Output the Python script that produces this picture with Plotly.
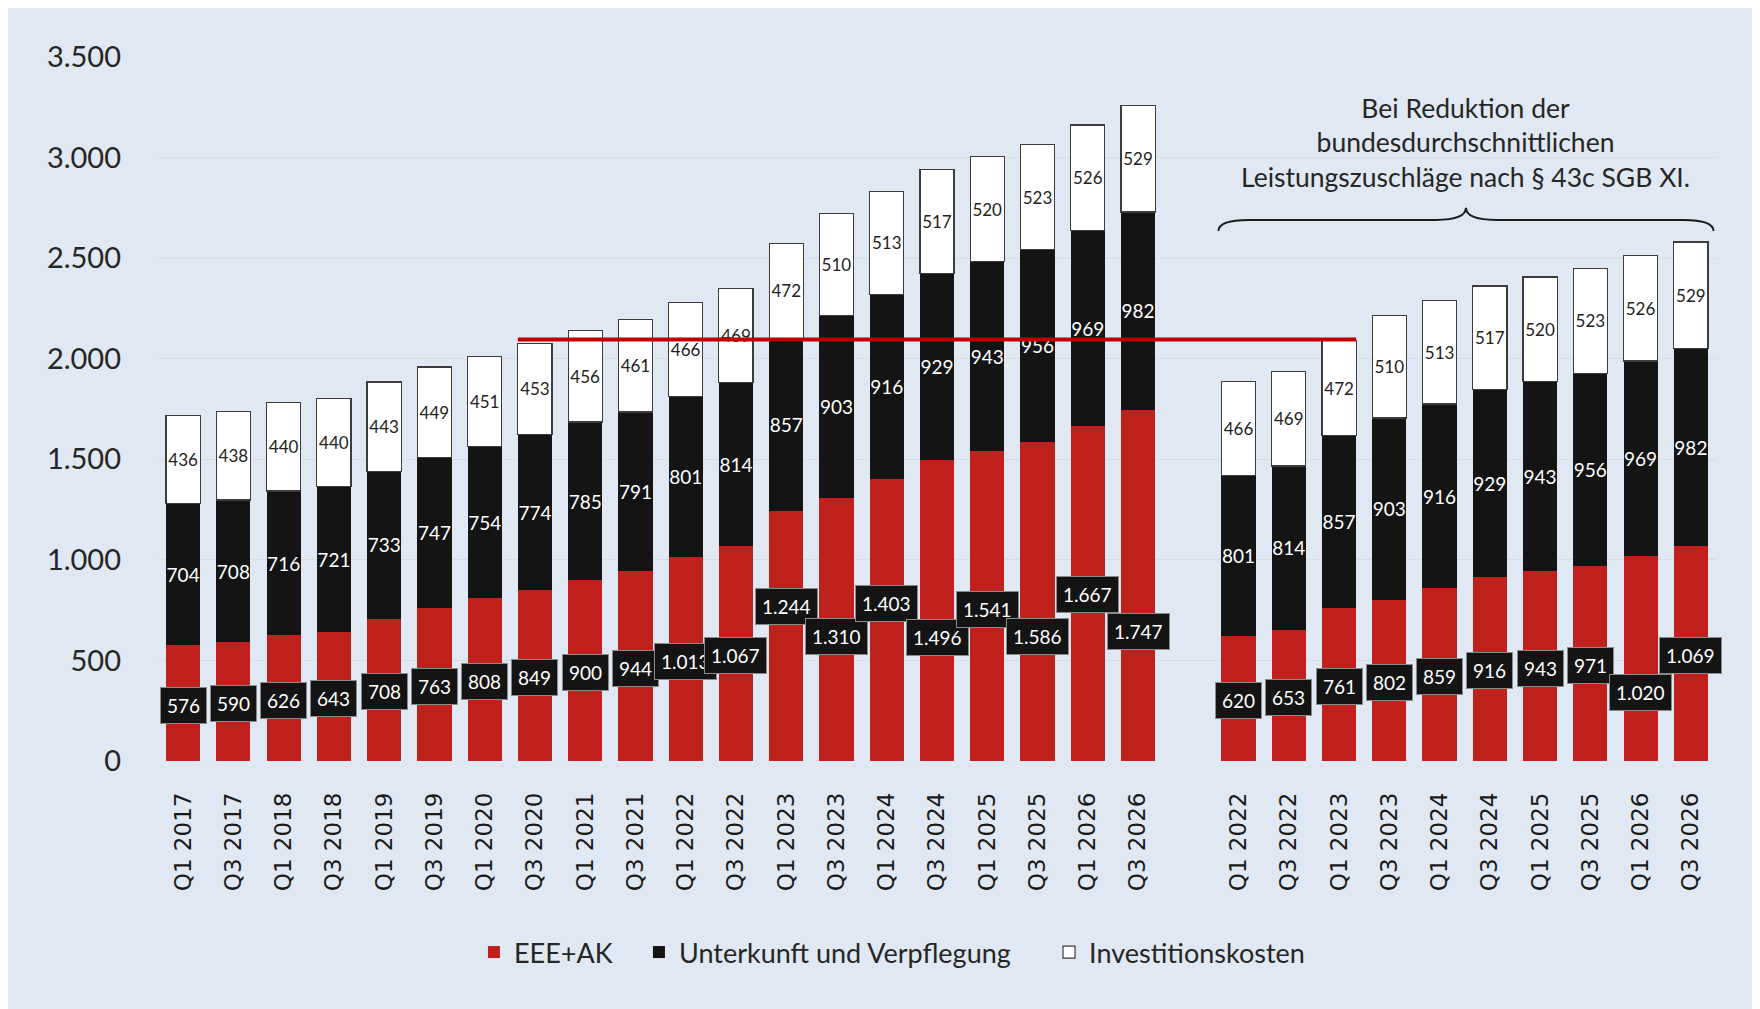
import plotly.graph_objects as go

# ---------------- data ----------------
g1_labels = ["Q1 2017", "Q3 2017", "Q1 2018", "Q3 2018", "Q1 2019", "Q3 2019", "Q1 2020", "Q3 2020",
             "Q1 2021", "Q3 2021", "Q1 2022", "Q3 2022", "Q1 2023", "Q3 2023", "Q1 2024", "Q3 2024",
             "Q1 2025", "Q3 2025", "Q1 2026", "Q3 2026"]
g1_eee = [576, 590, 626, 643, 708, 763, 808, 849, 900, 944, 1013, 1067, 1244, 1310, 1403, 1496,
          1541, 1586, 1667, 1747]
g1_uv = [704, 708, 716, 721, 733, 747, 754, 774, 785, 791, 801, 814, 857, 903, 916, 929,
         943, 956, 969, 982]
g1_inv = [436, 438, 440, 440, 443, 449, 451, 453, 456, 461, 466, 469, 472, 510, 513, 517,
          520, 523, 526, 529]

g2_labels = ["Q1 2022", "Q3 2022", "Q1 2023", "Q3 2023", "Q1 2024", "Q3 2024", "Q1 2025", "Q3 2025",
             "Q1 2026", "Q3 2026"]
g2_eee = [620, 653, 761, 802, 859, 916, 943, 971, 1020, 1069]
g2_uv = [801, 814, 857, 903, 916, 929, 943, 956, 969, 982]
g2_inv = [466, 469, 472, 510, 513, 517, 520, 523, 526, 529]

ref_level = 2095
y_ticks = [0, 500, 1000, 1500, 2000, 2500, 3000, 3500]
note_text = "Bei Reduktion der<br>bundesdurchschnittlichen<br>Leistungszuschläge nach § 43c SGB XI."

# ---------------- styling ----------------
RED = "#C0211C"
BLACK = "#141414"
BG = "#DFE8F3"
NUM_FONT = "Lato"
BAR_W = 0.68
# vertical pixel nudges of the boxed red labels (to avoid overlaps, as in the original)
red_shift_g1 = [-2] * 12 + [29, -7, 16, -27, -3, -35, -1, -46]
red_shift_g2 = [-2] * 8 + [-34, -2]
legend_x = [0.2028, 0.3087, 0.5719]


def de(v):
    return f"{v:,}".replace(",", ".")


gap = 1
x1 = list(range(len(g1_labels)))
x2 = [len(g1_labels) + gap + i for i in range(len(g2_labels))]
xs = x1 + x2
labels = g1_labels + g2_labels
eee = g1_eee + g2_eee
uv = g1_uv + g2_uv
inv = g1_inv + g2_inv

fig = go.Figure()
fig.add_trace(go.Bar(x=xs, y=eee, name="EEE+AK", marker=dict(color=RED, line=dict(width=0)),
                     width=BAR_W, legend="legend"))
fig.add_trace(go.Bar(x=xs, y=uv, name="Unterkunft und Verpflegung",
                     marker=dict(color=BLACK, line=dict(width=0)), width=BAR_W, legend="legend2",
                     text=[de(v) for v in uv], textposition="inside", insidetextanchor="middle",
                     textangle=0, constraintext="none",
                     textfont=dict(family=NUM_FONT, size=19, color="white")))
fig.add_trace(go.Bar(x=xs, y=inv, name="Investitionskosten",
                     marker=dict(color="white", line=dict(width=1.2, color="#3c3c3c")), width=BAR_W,
                     legend="legend3",
                     text=[de(v) for v in inv], textposition="inside", insidetextanchor="middle",
                     textangle=0, constraintext="none",
                     textfont=dict(family=NUM_FONT, size=17, color="#222222")))

# boxed labels for red segments
for x, v, s in zip(xs, eee, red_shift_g1 + red_shift_g2):
    fig.add_annotation(x=x, y=v / 2, yshift=s, text=de(v), showarrow=False,
                       font=dict(family=NUM_FONT, size=19, color="white"),
                       bgcolor=BLACK, bordercolor="#8a8a8a", borderwidth=1, borderpad=6)

# red reference line
lx0 = x1[g1_labels.index("Q3 2020")] - BAR_W / 2
lx1 = x2[g2_labels.index("Q1 2023")] + BAR_W / 2
fig.add_shape(type="line", xref="x", yref="y", x0=lx0, x1=lx1, y0=ref_level, y1=ref_level,
              line=dict(color="#C00000", width=4), layer="above")

# curly brace over second group
bx0 = x2[0] - 0.4
bx1 = x2[-1] + 0.45
bm = (bx0 + bx1) / 2
y_end, y_h, y_pk = 2635, 2690, 2750
d = 0.6
path = (f"M{bx0},{y_end} Q{bx0},{y_h} {bx0 + d},{y_h} L{bm - d},{y_h} "
        f"Q{bm},{y_h} {bm},{y_pk} Q{bm},{y_h} {bm + d},{y_h} L{bx1 - d},{y_h} "
        f"Q{bx1},{y_h} {bx1},{y_end}")
fig.add_shape(type="path", xref="x", yref="y", path=path, line=dict(color="#1a1a1a", width=2))

fig.add_annotation(x=bm, y=3075, text=note_text, showarrow=False, align="center",
                   font=dict(family="Lato", size=26.5, color="#262626"))

leg_common = dict(orientation="h", xanchor="left", y=-0.272, yanchor="middle",
                  font=dict(family="Lato", size=27, color="#262626"),
                  bgcolor="rgba(0,0,0,0)", borderwidth=0)

fig.update_layout(
    width=1752, height=1001,
    barmode="stack", separators=",.",
    paper_bgcolor=BG, plot_bgcolor="rgba(0,0,0,0)",
    margin=dict(l=150, r=44, t=49, b=248),
    showlegend=True,
    legend=dict(x=legend_x[0], **leg_common),
    legend2=dict(x=legend_x[1], **leg_common),
    legend3=dict(x=legend_x[2], **leg_common),
    xaxis=dict(range=[-0.5, xs[-1] + 0.5], tickmode="array", tickvals=xs, ticktext=labels,
               tickangle=-90, tickfont=dict(family="DejaVu Sans", size=23, color="#1a1a1a"),
               showgrid=False, zeroline=False, showline=False, ticks="", ticklabelstandoff=26),
    yaxis=dict(range=[0, 3500], tickmode="array", tickvals=y_ticks, tickformat=",d",
               tickfont=dict(family="Lato", size=29, color="#262626"),
               showgrid=True, gridcolor="#D9DCE0", gridwidth=1, zeroline=False, showline=False,
               ticks="", ticklabelstandoff=36),
    bargap=0.32,
)

fig.write_html("out.html")
